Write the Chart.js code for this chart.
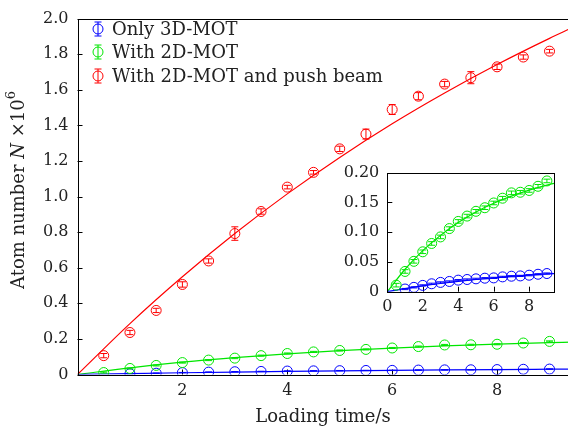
<!DOCTYPE html>
<html><head><meta charset="utf-8">
<script src="https://cdn.jsdelivr.net/npm/chart.js@4.4.1/dist/chart.umd.min.js"></script>
<style>
html,body{margin:0;padding:0;background:#fff;overflow:hidden;width:568px;height:432px;}
#wrap{position:relative;width:568px;height:432px;overflow:hidden;}
#main{position:absolute;left:0;top:0;}
#inset{position:absolute;left:330px;top:155px;}
</style></head><body>
<div id="wrap"><canvas id="main" width="580" height="432"></canvas><canvas id="inset" width="235" height="177"></canvas></div>
<script>
// measured loading curves, N in units of 1e6
const times = [0.5,1,1.5,2,2.5,3,3.5,4,4.5,5,5.5,6,6.5,7,7.5,8,8.5,9];
const pushVals = [0.106,0.236,0.360,0.506,0.638,0.792,0.916,1.053,1.136,1.268,1.351,1.489,1.564,1.632,1.668,1.729,1.784,1.817];
const pushErr  = [0.012,0.012,0.012,0.015,0.012,0.038,0.015,0.010,0.010,0.015,0.028,0.028,0.020,0.015,0.034,0.015,0.012,0.010];
const twoDVals = [0.011,0.034,0.051,0.067,0.081,0.092,0.106,0.118,0.127,0.135,0.141,0.149,0.157,0.166,0.167,0.170,0.177,0.186];
const twoDErr  = [0.003,0.003,0.003,0.003,0.003,0.003,0.003,0.003,0.003,0.003,0.003,0.003,0.003,0.003,0.003,0.003,0.003,0.003];
const blueTimes = [1,1.5,2,2.5,3,3.5,4,4.5,5,5.5,6,6.5,7,7.5,8,8.5,9];
const onlyVals = [0.0045,0.0073,0.0106,0.0133,0.0156,0.0172,0.0194,0.0205,0.0216,0.0227,0.0232,0.0249,0.026,0.0265,0.0277,0.0293,0.0305];
const onlyErr  = [0.001,0.001,0.001,0.001,0.001,0.001,0.001,0.001,0.001,0.001,0.001,0.001,0.001,0.001,0.001,0.001,0.001];
// fitted curves
const fitTimes = [0,1,2,3,4,5,6,7,8,9,9.4];
const pushFit = [0,0.286,0.549,0.792,1.015,1.220,1.409,1.582,1.742,1.889,1.944];
const twoDFit = [0,0.0377,0.069,0.0946,0.116,0.134,0.1485,0.1605,0.1706,0.179,0.182];
const onlyFit = [0,0.0052,0.0098,0.0138,0.0174,0.0205,0.0233,0.0257,0.0279,0.0298,0.0305];
// tick values
const mainXTicks = [0,2,4,6,8];
const mainYTicks = [0,0.2,0.4,0.6,0.8,1.0,1.2,1.4,1.6,1.8,2.0];
const insetXTicks = [0,2,4,6,8];
const insetYTicks = [0,0.05,0.10,0.15,0.20];
const legendLabels = ['Only 3D-MOT','With 2D-MOT','With 2D-MOT and push beam'];
const colors = ['#0000ff','#00e600','#ff0000'];

const FONT = "'DejaVu Serif','Liberation Serif',serif";
const TXT = '#222';
Chart.defaults.font.family = FONT;
Chart.defaults.color = TXT;

function pts(xs, ys){ return xs.map((x,i)=>({x:x,y:ys[i]})); }

function drawMarker(ctx,x,y,col,top,bot){
    ctx.save();
    ctx.strokeStyle=col; ctx.lineWidth=1;
    ctx.beginPath(); ctx.arc(x,y,5,0,Math.PI*2); ctx.stroke();
    ctx.beginPath();
    ctx.moveTo(x,top); ctx.lineTo(x,bot);
    ctx.moveTo(x-3.5,top); ctx.lineTo(x+3.5,top);
    ctx.moveTo(x-3.5,bot); ctx.lineTo(x+3.5,bot);
    ctx.stroke();
    ctx.restore();
}

const errorBars = {
    id:'errorBars',
    afterDatasetsDraw(chart){
        const ctx=chart.ctx, ys=chart.scales.y, area=chart.chartArea;
        ctx.save();
        ctx.beginPath(); ctx.rect(area.left,area.top-6,area.right-area.left,area.bottom-area.top+6); ctx.clip();
        chart.data.datasets.forEach((ds,di)=>{
            if(!ds.errors) return;
            const meta=chart.getDatasetMeta(di);
            meta.data.forEach((p,i)=>{
                const v=ds.data[i].y, e=ds.errors[i];
                drawMarker(ctx,p.x,p.y,ds.borderColor,ys.getPixelForValue(v+e),ys.getPixelForValue(v-e));
            });
        });
        ctx.restore();
    }
};

const frameBox = {
    id:'frameBox',
    beforeDatasetsDraw(chart,args,opts){
        const a=chart.chartArea, ctx=chart.ctx;
        if(opts.fill){ ctx.save(); ctx.fillStyle='#fff'; ctx.fillRect(a.left,a.top,a.right-a.left,a.bottom-a.top); ctx.restore(); }
    },
    afterDatasetsDraw(chart){
        const a=chart.chartArea, ctx=chart.ctx;
        ctx.save();
        ctx.strokeStyle='#000'; ctx.lineWidth=1;
        ctx.strokeRect(Math.round(a.left)+0.5,Math.round(a.top)+0.5,Math.round(a.right-a.left),Math.round(a.bottom-a.top));
        ctx.beginPath();
        chart.scales.x.ticks.forEach(t=>{
            const px=Math.round(chart.scales.x.getPixelForValue(t.value))+0.5;
            ctx.moveTo(px,a.bottom); ctx.lineTo(px,a.bottom-5);
        });
        chart.scales.y.ticks.forEach(t=>{
            const py=Math.round(chart.scales.y.getPixelForValue(t.value))+0.5;
            ctx.moveTo(a.left,py); ctx.lineTo(a.left+5,py);
        });
        ctx.stroke();
        ctx.restore();
    }
};

const mainDecor = {
    id:'mainDecor',
    afterDraw(chart){
        const ctx=chart.ctx;
        ctx.save();
        // legend
        ctx.font='18px '+FONT; ctx.textBaseline='middle'; ctx.fillStyle=TXT;
        const rows=[29,52,76];
        legendLabels.forEach((lab,i)=>{
            drawMarker(ctx,98,rows[i],colors[i],rows[i]-7,rows[i]+7);
            ctx.fillStyle=TXT;
            ctx.fillText(lab,112,rows[i]+1);
        });
        // x title
        ctx.textAlign='center';
        ctx.fillText('Loading time/s',323,417);
        // y title with italic N and superscript
        ctx.translate(19,190); ctx.rotate(-Math.PI/2);
        const parts=[['Atom number ','18px '+FONT,0],['N','italic 18px '+FONT,0],[' \u00d710','18px '+FONT,0],['6','13px '+FONT,-7]];
        let w=0;
        parts.forEach(p=>{ctx.font=p[1]; w+=ctx.measureText(p[0]).width;});
        let x=-w/2; ctx.textAlign='left';
        parts.forEach(p=>{ctx.font=p[1]; ctx.fillText(p[0],x,p[2]); x+=ctx.measureText(p[0]).width;});
        ctx.restore();
    }
};

function scatterSet(xs,ys,errs,col){
    return {data:pts(xs,ys),errors:errs,borderColor:col,showLine:false,pointRadius:0,pointHoverRadius:0};
}
function fitSet(ys,col){
    return {data:pts(fitTimes,ys),borderColor:col,borderWidth:1.2,pointRadius:0,cubicInterpolationMode:'monotone',fill:false};
}
function fixedTicks(vals){ return s=>{ s.ticks = vals.map(v=>({value:v})); }; }
const noGrid = {display:false,drawTicks:false,tickLength:0};

new Chart(document.getElementById('main'),{
    type:'line',
    data:{datasets:[
        fitSet(onlyFit,colors[0]),fitSet(twoDFit,colors[1]),fitSet(pushFit,colors[2]),
        scatterSet(blueTimes,onlyVals,onlyErr,colors[0]),
        scatterSet(times,twoDVals,twoDErr,colors[1]),
        scatterSet(times,pushVals,pushErr,colors[2])
    ]},
    options:{
        responsive:false,animation:false,devicePixelRatio:1,
        layout:{padding:{top:12.5,right:9.5,left:0,bottom:0}},
        plugins:{legend:{display:false},tooltip:{enabled:false},frameBox:{fill:false}},
        scales:{
            x:{type:'linear',min:0,max:9.4,grid:noGrid,border:{display:false},
                afterBuildTicks:fixedTicks(mainXTicks),
                ticks:{autoSkip:false,maxRotation:0,padding:7,font:{size:16},
                    callback:v=>v===0?'':String(v)},
                afterFit:s=>{s.height=57.5;}},
            y:{min:0,max:2,grid:noGrid,border:{display:false},
                afterBuildTicks:fixedTicks(mainYTicks),
                ticks:{autoSkip:false,padding:9,font:{size:16},
                    callback:v=>Math.abs(v)<1e-9?'0':v.toFixed(1)},
                afterFit:s=>{s.width=77.5;}}
        }
    },
    plugins:[frameBox,errorBars,mainDecor]
});

new Chart(document.getElementById('inset'),{
    type:'line',
    data:{datasets:[
        fitSet(onlyFit,colors[0]),fitSet(twoDFit,colors[1]),
        scatterSet(blueTimes,onlyVals,onlyErr,colors[0]),
        scatterSet(times,twoDVals,twoDErr,colors[1])
    ]},
    options:{
        responsive:false,animation:false,devicePixelRatio:1,
        layout:{padding:{top:16,right:11,left:0,bottom:0}},
        plugins:{legend:{display:false},tooltip:{enabled:false},frameBox:{fill:true}},
        scales:{
            x:{type:'linear',min:0,max:9.4,grid:noGrid,border:{display:false},
                afterBuildTicks:fixedTicks(insetXTicks),
                ticks:{autoSkip:false,maxRotation:0,padding:6,font:{size:16},
                    callback:v=>String(v)},
                afterFit:s=>{s.height=40.3;}},
            y:{min:0,max:0.2,grid:noGrid,border:{display:false},
                afterBuildTicks:fixedTicks(insetYTicks),
                ticks:{autoSkip:false,padding:8,font:{size:16},
                    callback:v=>Math.abs(v)<1e-9?'0':v.toFixed(2)},
                afterFit:s=>{s.width=57.3;}}
        }
    },
    plugins:[frameBox,errorBars]
});
</script>
</body></html>
